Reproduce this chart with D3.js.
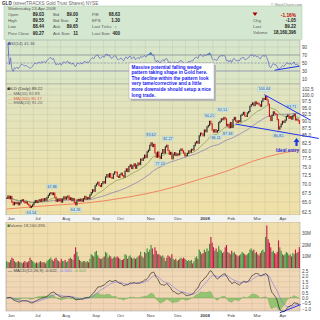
<!DOCTYPE html>
<html>
<head>
<meta charset="utf-8">
<script src="https://cdn.jsdelivr.net/npm/d3@7"></script>
<style>
body { margin: 0; background: #fff; }
svg { display: block; font-family: "Liberation Sans", Arial, sans-serif; }
</style>
</head>
<body>
<svg id="chart" width="320" height="320"></svg>
<script>
// months shown on the date axis and trading days in each
const months = ['Jun', 'Jul', 'Aug', 'Sep', 'Oct', 'Nov', 'Dec', '2008', 'Feb', 'Mar', 'Apr'];
const monthDays = [21, 21, 23, 19, 23, 21, 20, 21, 20, 20, 17];

// daily closes, Jun 2007 .. 23 Apr 2008
const closes = [
	66.0, 66.6, 65.9, 66.5, 65.0, 64.3, 64.9, 64.6, 64.9, 64.3, 64.8, 65.4, 65.6, 65.1, 64.8, 65.0, 64.5, 64.2, 63.6, 63.9, 64.3,
	64.9, 65.4, 64.9, 65.3, 65.6, 65.2, 65.8, 65.4, 65.9, 65.5, 66.2, 66.8, 67.3, 67.5, 67.0, 67.4, 66.3, 65.2, 65.7, 65.3, 65.8,
	65.0, 65.8, 66.4, 65.8, 66.3, 66.6, 65.7, 66.1, 65.4, 65.9, 64.9, 64.3, 65.3, 65.7, 65.3, 65.8, 65.2, 65.9, 66.5, 65.8, 66.2, 65.9, 66.9,
	67.5, 68.3, 67.9, 69.4, 69.9, 70.4, 69.5, 69.2, 70.0, 70.6, 70.2, 71.9, 72.6, 71.9, 72.9, 71.8, 71.5, 72.8, 73.4,
	73.3, 72.1, 71.8, 72.6, 73.0, 72.3, 71.9, 73.6, 74.3, 73.5, 75.0, 75.5, 74.4, 75.2, 75.8, 74.5, 75.4, 76.1, 75.6, 77.3, 76.9, 77.6, 78.5,
	77.8, 79.6, 80.1, 81.7, 82.5, 81.3, 82.0, 79.2, 77.9, 79.5, 78.0, 77.5, 79.1, 80.3, 79.2, 81.2, 81.7, 80.0, 78.8, 79.4, 77.4,
	78.6, 79.3, 78.4, 78.9, 78.6, 80.0, 80.5, 79.9, 79.2, 78.3, 78.5, 79.1, 79.9, 79.5, 80.4, 80.2, 81.6, 82.5, 83.0, 82.4,
	84.9, 85.8, 85.5, 84.9, 86.9, 86.3, 88.0, 88.5, 90.0, 89.1, 86.9, 86.2, 87.0, 86.2, 86.7, 89.5, 90.0, 90.9, 90.6, 91.4, 90.9,
	88.4, 88.9, 87.7, 89.5, 87.8, 90.6, 91.4, 90.1, 89.6, 90.2, 89.9, 92.2, 92.6, 93.3, 92.0, 91.8, 93.1, 93.6, 95.6, 96.3,
	96.9, 95.9, 97.3, 96.6, 96.8, 96.2, 95.6, 97.6, 98.7, 98.3, 99.5, 98.1, 96.4, 91.8, 90.3, 92.2, 93.5, 92.8, 92.5, 90.6,
	87.2, 88.0, 89.0, 90.0, 89.6, 90.4, 91.8, 92.3, 91.1, 91.7, 90.8, 92.1, 92.6, 90.5, 90.8, 90.27, 89.22
];

// daily volume, millions of shares
const volumes = [
	6, 5, 5, 7, 9, 8, 6, 5, 5, 6, 5, 5, 4, 5, 6, 5, 5, 6, 9, 7, 6,
	5, 4, 5, 4, 5, 6, 5, 5, 5, 4, 6, 7, 8, 9, 7, 6, 8, 9, 7, 6, 5,
	8, 6, 6, 7, 5, 6, 8, 9, 8, 7, 12, 18, 14, 10, 7, 6, 5, 6, 6, 5, 6, 5, 8,
	12, 11, 10, 14, 15, 11, 9, 8, 8, 9, 10, 14, 13, 9, 11, 10, 8, 9, 10,
	9, 10, 9, 8, 7, 7, 8, 12, 11, 8, 10, 11, 9, 8, 9, 8, 9, 10, 11, 14, 10, 9, 14,
	13, 17, 14, 16, 20, 17, 12, 18, 15, 12, 12, 11, 10, 11, 9, 6, 9, 11, 10, 9, 12,
	8, 7, 8, 6, 7, 8, 9, 8, 9, 8, 7, 6, 7, 6, 7, 4, 6, 9, 10, 8,
	16, 14, 12, 13, 16, 14, 17, 15, 21, 27, 22, 18, 15, 17, 14, 19, 16, 15, 13, 14, 18,
	20, 14, 13, 12, 15, 13, 14, 12, 11, 10, 11, 12, 14, 13, 12, 11, 12, 13, 16, 17,
	15, 16, 13, 14, 12, 11, 13, 15, 16, 14, 27, 37, 25, 22, 18, 14, 15, 13, 12, 14,
	24, 18, 15, 12, 11, 12, 14, 13, 11, 12, 10, 13, 12, 16, 13, 14, 18.16
];

// 200-day average (day index, value)
const ma200Idx = [0, 21, 42, 65, 84, 107, 128, 148, 169, 189, 209, 225];
const ma200Val = [63.2, 63.8, 64.3, 64.9, 65.8, 67.2, 69.0, 71.2, 73.6, 76.6, 78.9, 80.17];

// high / low callouts
const calloutIdx = [19, 35, 53, 111, 118, 124, 156, 166, 161, 170, 198, 209, 219];
const calloutVal = [63.54, 67.86, 64.26, 83.62, 77.53, 82.27, 90.25, 92.51, 86.11, 87.38, 100.44, 86.85, 93.71];
const calloutSide = ['b', 'a', 'b', 'a', 'b', 'a', 'a', 'a', 'b', 'b', 'a', 'b', 'a'];

// hand-drawn wedge lines (day index, price)
const wedgeTop = [[198, 100.2], [233, 90.6]];
const wedgeBottom = [[176, 89.0], [240, 84.0]];
const rsiTrend = [[206, 32], [225, 42]];
const macdTrend = [[210, -1.35], [226, -0.6]];

// axis tick labels
const priceTicks = [62.5, 65, 67.5, 70, 72.5, 75, 77.5, 80, 82.5, 85, 87.5, 90, 92.5, 95, 97.5, 100, 102.5];
const rsiTicks = [10, 30, 50, 70, 90];
const volTicks = [10, 20, 30];
const macdTicks = [-1, -0.5, 0, 0.5, 1, 1.5, 2, 2.5];

const note = [
	'Massive potential falling wedge',
	'pattern taking shape in Gold here.',
	'The decline within the pattern look',
	'very tame/corrective and a little',
	'more downside should setup a nice',
	'long trade.'
];

var svg = d3.select('#chart');
var n = closes.length;
var days = d3.range(n);
var L = 6, R = 300;
var monthStart = [];
monthDays.reduce((a, d) => { monthStart.push(a); return a + d; }, 0);

var x = d3.scaleLinear().domain([ -0.5, n - 0.5 ]).range([ L, R ]);
var yP = d3.scaleLog().domain([ 61.7, 104.6 ]).range([ 215, 84 ]);
var yR = d3.scaleLinear().domain([ 0, 100 ]).range([ 83, 43 ]);
var yV = d3.scaleLinear().domain([ 0, 40 ]).range([ 268, 222 ]);
var yM = d3.scaleLinear().domain([ -1.28, 2.75 ]).range([ 312, 268 ]);

// indicators
function ema(v, p) {
	var k = 2 / (p + 1), out = [];
	v.forEach((d, i) => out.push(i ? d * k + out[i - 1] * (1 - k) : d));
	return out;
}
function sma(v, p) {
	return v.map((d, i) => d3.mean(v.slice(Math.max(0, i - p + 1), i + 1)));
}
function rsiCalc(v, p) {
	var ag = 0, al = 0, out = [ null ];
	for (var i = 1; i < v.length; i++) {
		var d = v[i] - v[i - 1], g = Math.max(d, 0), l = Math.max(-d, 0);
		if (i <= p) { ag = (ag * (i - 1) + g) / i; al = (al * (i - 1) + l) / i; }
		else { ag = (ag * (p - 1) + g) / p; al = (al * (p - 1) + l) / p; }
		out.push(al === 0 ? 100 : 100 - 100 / (1 + ag / al));
	}
	return out;
}
var ema20 = ema(closes, 20);
var ma50 = sma(closes, 50);
var rsi = rsiCalc(closes, 14);
var e12 = ema(closes, 12), e26 = ema(closes, 26);
var macd = e12.map((d, i) => d - e26[i]);
var signal = ema(macd, 9);
var hist = macd.map((d, i) => d - signal[i]);
var opens = closes.map((c, i) => (i ? closes[i - 1] : c));

// defs: gradients and clips
var defs = svg.append('defs');
function grad(id, c1, c2) {
	var g = defs.append('linearGradient').attr('id', id).attr('x1', 0).attr('x2', 0).attr('y1', 0).attr('y2', 1);
	g.append('stop').attr('offset', 0).attr('stop-color', c1);
	g.append('stop').attr('offset', 1).attr('stop-color', c2);
}
grad('gRsi', '#d6e6cc', '#dce6c4');
grad('gPrice', '#dfe4c2', '#f0e0a6');
grad('gVol', '#f0dfae', '#f0d9aa');
grad('gMacd', '#f0d9b6', '#f2d4b6');
defs.append('clipPath').attr('id', 'cPrice').append('rect').attr('x', L).attr('y', 84).attr('width', R - L).attr('height', 131);
defs.append('clipPath').attr('id', 'cRsiHi').append('rect').attr('x', L).attr('y', 40).attr('width', R - L).attr('height', yR(70) - 40);

// panel backgrounds
var panels = [ [ 40, 84, 'url(#gRsi)' ], [ 84, 215, 'url(#gPrice)' ], [ 222, 268, 'url(#gVol)' ], [ 268, 311, 'url(#gMacd)' ] ];
svg.append('g').selectAll('rect').data(panels).join('rect')
	.attr('x', L).attr('y', (d) => d[0]).attr('width', R - L).attr('height', (d) => d[1] - d[0])
	.attr('fill', (d) => d[2]).attr('stroke', '#9a9a9a').attr('stroke-width', 0.5);
svg.append('rect').attr('x', L).attr('y', 215).attr('width', R - L).attr('height', 7).attr('fill', '#f4f4f2');

// vertical grid (month starts and mid-month)
var gridIdx = [];
monthStart.forEach((s, k) => { gridIdx.push(s); gridIdx.push(s + Math.round(monthDays[k] / 2)); });
var vg = svg.append('g').attr('stroke', 'rgba(120,120,90,0.22)').attr('stroke-width', 0.5);
panels.forEach((p) => {
	vg.append('g').selectAll('line').data(gridIdx).join('line')
		.attr('x1', (i) => x(i - 0.5)).attr('x2', (i) => x(i - 0.5)).attr('y1', p[0]).attr('y2', p[1]);
});

// horizontal grids + right axes
function hGrid(scale, ticks, fmt) {
	svg.append('g').attr('stroke', 'rgba(120,120,90,0.22)').attr('stroke-width', 0.5)
		.selectAll('line').data(ticks).join('line')
		.attr('x1', L).attr('x2', R).attr('y1', (d) => scale(d)).attr('y2', (d) => scale(d));
	svg.append('g').attr('transform', `translate(${R},0)`)
		.call(d3.axisRight(scale).tickValues(ticks).tickSize(0).tickPadding(2).tickFormat(fmt))
		.call((g) => g.select('.domain').remove())
		.call((g) => g.selectAll('text').attr('font-size', 4.6).attr('fill', '#444').attr('font-family', null));
}
hGrid(yP, priceTicks, d3.format('.1f'));
hGrid(yR, rsiTicks, d3.format('d'));
hGrid(yV, volTicks, (d) => d + 'M');
hGrid(yM, macdTicks, d3.format('.1f'));

// RSI panel
svg.append('line').attr('x1', L).attr('x2', R).attr('y1', yR(70)).attr('y2', yR(70)).attr('stroke', '#a0a8a8').attr('stroke-width', 1.2);
svg.append('line').attr('x1', L).attr('x2', R).attr('y1', yR(30)).attr('y2', yR(30)).attr('stroke', '#7878b8').attr('stroke-width', 0.6);
svg.append('line').attr('x1', L).attr('x2', R).attr('y1', yR(50)).attr('y2', yR(50)).attr('stroke', '#7878b8').attr('stroke-width', 0.5).attr('stroke-dasharray', '2,1.5');
var rDays = days.slice(1);
svg.append('path').datum(rDays).attr('clip-path', 'url(#cRsiHi)')
	.attr('d', d3.area().x((i) => x(i)).y0(yR(70)).y1((i) => yR(rsi[i])))
	.attr('fill', '#3f9aac');
svg.append('path').datum(rDays)
	.attr('d', d3.line().x((i) => x(i)).y((i) => yR(rsi[i])))
	.attr('fill', 'none').attr('stroke', '#4a4ac4').attr('stroke-width', 0.6);

// price panel
var gp = svg.append('g').attr('clip-path', 'url(#cPrice)');
gp.append('path').datum(ma200Idx)
	.attr('d', d3.line().curve(d3.curveMonotoneX).x((i) => x(i)).y((i, k) => yP(ma200Val[k])))
	.attr('fill', 'none').attr('stroke', '#f07a5a').attr('stroke-width', 0.9);
gp.append('path').datum(days)
	.attr('d', d3.line().x((i) => x(i)).y((i) => yP(ma50[i])))
	.attr('fill', 'none').attr('stroke', '#8a80b4').attr('stroke-width', 0.8);
gp.append('path').datum(days)
	.attr('d', d3.line().x((i) => x(i)).y((i) => yP(ema20[i])))
	.attr('fill', 'none').attr('stroke', '#7f9a4c').attr('stroke-width', 0.7);
gp.selectAll('rect.c').data(days).join('rect').attr('class', 'c')
	.attr('x', (i) => x(i) - 0.55).attr('width', 1.1)
	.attr('y', (i) => yP(Math.max(opens[i], closes[i])) - 0.6)
	.attr('height', (i) => Math.max(1.2, Math.abs(yP(opens[i]) - yP(closes[i])) + 1.2))
	.attr('fill', (i) => (closes[i] < opens[i] ? '#d41010' : '#222'));

// callouts
var co = svg.append('g').selectAll('g').data(calloutIdx).join('g')
	.attr('transform', (i, k) => {
		var yy = calloutSide[k] === 'a' ? yP(calloutVal[k]) - 5 : yP(calloutVal[k]) + 5;
		return `translate(${x(i)},${yy})`;
	});
co.append('rect').attr('x', (i, k) => -(calloutVal[k] >= 100 ? 6.5 : 5.5)).attr('y', -2.2)
	.attr('width', (i, k) => (calloutVal[k] >= 100 ? 13 : 11)).attr('height', 4.4)
	.attr('fill', '#cdebf2').attr('stroke', '#9cc4cc').attr('stroke-width', 0.3);
co.append('text').attr('text-anchor', 'middle').attr('y', 1.4).attr('font-size', 3.8).attr('fill', '#345')
	.text((i, k) => calloutVal[k].toFixed(2));

// wedge lines and notes
var seg = d3.line().x((d) => x(d[0])).y((d) => yP(d[1]));
svg.append('path').datum(wedgeTop).attr('d', seg).attr('stroke', '#2233ee').attr('stroke-width', 1).attr('fill', 'none');
svg.append('path').datum(wedgeBottom).attr('d', seg).attr('stroke', '#2233ee').attr('stroke-width', 1).attr('fill', 'none');
svg.append('path').datum(rsiTrend).attr('d', d3.line().x((d) => x(d[0])).y((d) => yR(d[1])))
	.attr('stroke', '#2233ee').attr('stroke-width', 1).attr('fill', 'none');
svg.append('path').datum(macdTrend).attr('d', d3.line().x((d) => x(d[0])).y((d) => yM(d[1])))
	.attr('stroke', '#2233ee').attr('stroke-width', 1).attr('fill', 'none');
svg.append('path').attr('d', 'M296.5,138 L299.5,142 L297.6,142 L297.6,146 L295.4,146 L295.4,142 L293.5,142 Z').attr('fill', '#1a3adc');
svg.append('text').attr('x', 276).attr('y', 152).attr('font-size', 4.6).attr('font-weight', 'bold').attr('fill', '#1a2ee0').text('Ideal entry');

// volume
svg.append('g').selectAll('rect').data(days).join('rect')
	.attr('x', (i) => x(i) - 0.55).attr('width', 1.1)
	.attr('y', (i) => yV(volumes[i])).attr('height', (i) => yV(0) - yV(volumes[i]))
	.attr('fill', (i) => (closes[i] < opens[i] ? '#c41848' : '#3a8c3a'));

// MACD
svg.append('path').datum(days)
	.attr('d', d3.area().x((i) => x(i)).y0(yM(0)).y1((i) => yM(hist[i])))
	.attr('fill', '#86c066').attr('fill-opacity', 0.85).attr('stroke', '#5f9e48').attr('stroke-width', 0.3);
svg.append('path').datum(days)
	.attr('d', d3.line().x((i) => x(i)).y((i) => yM(signal[i])))
	.attr('fill', 'none').attr('stroke', '#7c74ee').attr('stroke-width', 0.6);
svg.append('path').datum(days)
	.attr('d', d3.line().x((i) => x(i)).y((i) => yM(macd[i])))
	.attr('fill', 'none').attr('stroke', '#111').attr('stroke-width', 0.6);

// date labels
[ 220.2, 317 ].forEach((yy) => {
	svg.append('g').selectAll('text').data(monthStart).join('text')
		.attr('x', (s) => x(s) + 1).attr('y', yy).attr('font-size', 4.4)
		.attr('font-weight', (s, k) => (months[k] === '2008' ? 'bold' : null))
		.attr('fill', '#444').text((s, k) => months[k]);
});

// annotation box
svg.append('rect').attr('x', 131).attr('y', 65).attr('width', 85).attr('height', 36).attr('fill', '#b8b8b8');
svg.append('rect').attr('x', 129).attr('y', 63).attr('width', 85).attr('height', 36).attr('fill', '#fff').attr('stroke', '#999').attr('stroke-width', 0.4);
svg.append('g').selectAll('text').data(note).join('text')
	.attr('x', 131.5).attr('y', (d, k) => 68.6 + k * 5.6).attr('font-size', 4.7).attr('font-weight', 'bold')
	.attr('fill', '#1818f0').text((d) => d);

// title & info panel
svg.append('text').attr('x', 2).attr('y', 4.8).attr('font-size', 4.6).attr('fill', '#333')
	.call((t) => { t.append('tspan').attr('font-weight', 'bold').text('GLD '); t.append('tspan').attr('fill', '#666').text('(streetTRACKS Gold Trust Shares) NYSE'); });
svg.append('text').attr('x', 302).attr('y', 5.6).attr('text-anchor', 'end').attr('font-size', 3.6).attr('fill', '#777').text('© StockCharts.com');
svg.append('rect').attr('x', 4).attr('y', 6).attr('width', 298).attr('height', 33.5).attr('fill', '#d4e7d0').attr('stroke', '#a9c9a4').attr('stroke-width', 0.5);
svg.append('text').attr('x', 8).attr('y', 9.6).attr('font-size', 4.3).attr('fill', '#555').text('Wednesday  23-Apr-2008');
var info = [
	[ 'Open', '89.03', 'Bid', '89.00', 'P/E', '68.63' ],
	[ 'High', '89.55', 'Bid Size', '2', 'EPS', '1.30' ],
	[ 'Low', '88.44', 'Ask', '89.65', 'Last Ticks:', '' ],
	[ 'Prev Close', '90.27', 'Ask Size', '11', 'Last Size', '400' ]
];
var rowY = [ 15.6, 21.9, 28.2, 34.5 ];
var colL = [ 8, 53, 92 ], colV = [ 44, 78, 120 ];
info.forEach((r, k) => {
	[ 0, 1, 2 ].forEach((c) => {
		svg.append('text').attr('x', colL[c]).attr('y', rowY[k]).attr('font-size', 4.3).attr('fill', '#555').text(r[c * 2]);
		svg.append('text').attr('x', colV[c]).attr('y', rowY[k]).attr('text-anchor', 'end').attr('font-size', 4.5)
			.attr('font-weight', 'bold').attr('fill', '#222').text(r[c * 2 + 1]);
	});
});
svg.append('text').attr('x', 117).attr('y', 28.6).attr('text-anchor', 'end').attr('font-size', 5.5).attr('font-weight', 'bold').attr('fill', '#1a8a1a').text('↑');
svg.append('path').attr('d', 'M252.5,12.5 L257.5,12.5 L255,16 Z').attr('fill', '#a00');
svg.append('text').attr('x', 296).attr('y', 16.6).attr('text-anchor', 'end').attr('font-size', 4.8).attr('font-weight', 'bold').attr('fill', '#c00').text('-1.16%');
[ [ 'Chg', '-1.05', 22.2 ], [ 'Last', '89.22', 28.3 ], [ 'Volume', '18,160,396', 34.3 ] ].forEach((r) => {
	svg.append('text').attr('x', 253).attr('y', r[2]).attr('font-size', 4.3).attr('fill', '#555').text(r[0]);
	svg.append('text').attr('x', 296).attr('y', r[2]).attr('text-anchor', 'end').attr('font-size', 4.5).attr('font-weight', 'bold').attr('fill', '#222').text(r[1]);
});

// legends
function legend(yy, parts) {
	var t = svg.append('text').attr('x', 8).attr('y', yy).attr('font-size', 4.3);
	parts.forEach((p) => t.append('tspan').attr('fill', p[1]).text(p[0]));
}
svg.append('path').attr('d', 'M7.5,44.8 L9.3,41.6 L11.1,44.8 Z').attr('fill', '#3a5adc');
legend(44.8, [ [ '    RSI(14) 41.36', '#556' ] ]);
svg.append('rect').attr('x', 7.5).attr('y', 87.6).attr('width', 2.2).attr('height', 2.4).attr('fill', '#333');
legend(90.2, [ [ '    GLD (Daily) 89.22', '#444' ] ]);
legend(94.9, [ [ '— ', '#8a80b4' ], [ 'MA(50) 92.89', '#666' ] ]);
legend(99.6, [ [ '— ', '#f07a5a' ], [ 'MA(200) 80.17', '#e0603c' ] ]);
legend(104.3, [ [ '— ', '#7f9a4c' ], [ 'EMA(20) 91.20', '#666' ] ]);
svg.append('rect').attr('x', 7.5).attr('y', 224.6).attr('width', 2.2).attr('height', 2.4).attr('fill', '#3a8c3a');
legend(227.2, [ [ '    Volume 18,160,396', '#555' ] ]);
legend(272.4, [ [ '— ', '#111' ], [ 'MACD(12,26,9) -0.622, ', '#444' ], [ '-0.520, ', '#7c74ee' ], [ '-0.102', '#6aaa50' ] ]);
</script>
</body>
</html>
